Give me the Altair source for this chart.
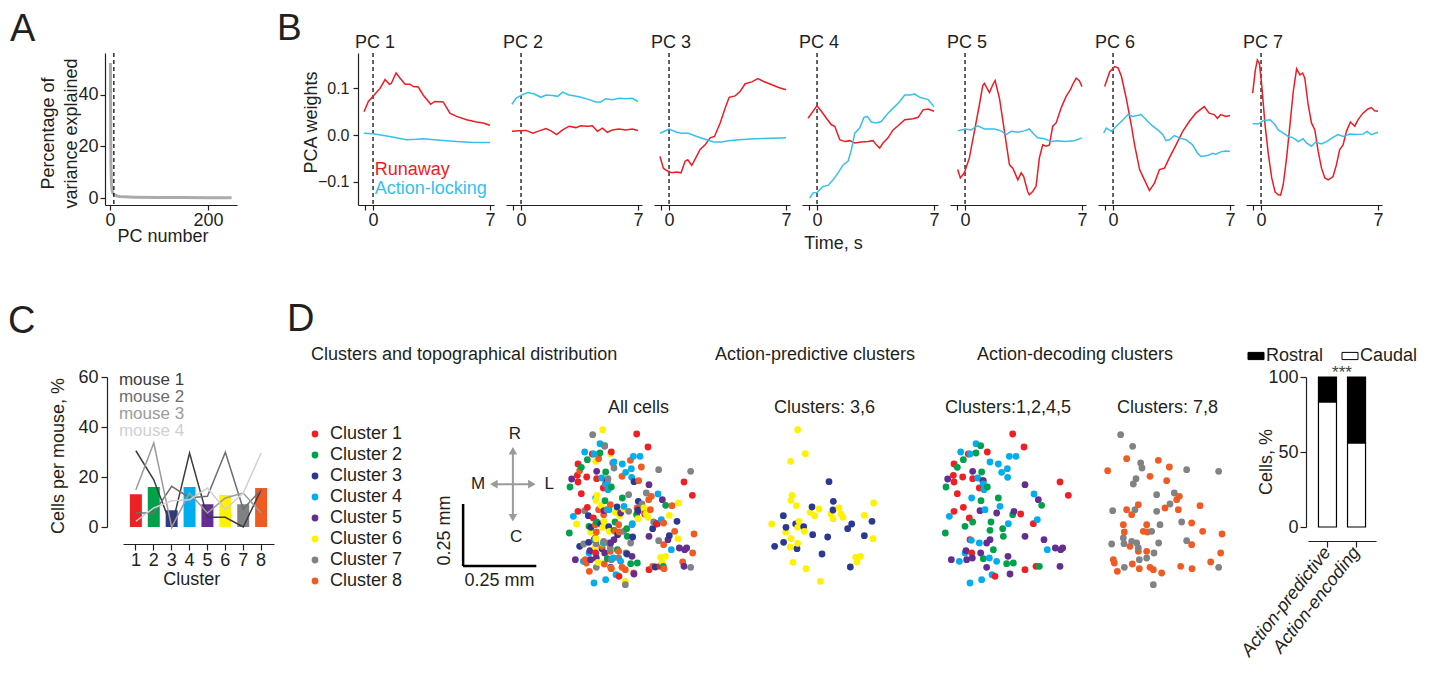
import altair as alt
import pandas as pd

FONT = "Liberation Sans"
INK = "#231F20"
RED = "#ED1C24"
CYAN = "#36BFEF"
GRAY_CURVE = "#ABABAB"
ARROW_GRAY = "#9A9A9A"

CLUSTER_COLORS = ["#ED2024", "#00A14B", "#2B3990", "#00AEEF", "#662D91", "#FFF200", "#808285", "#F15A22"]
CLUSTER_NAMES = ["Cluster 1", "Cluster 2", "Cluster 3", "Cluster 4", "Cluster 5", "Cluster 6", "Cluster 7", "Cluster 8"]
CLUSTER_IDS = ["1", "2", "3", "4", "5", "6", "7", "8"]

# ---------------- A: variance explained per PC
A_PC = [1, 2, 3, 4, 5, 6, 8, 10, 15, 20, 30, 50, 100, 150, 200, 248]
A_VARIANCE = [52.3, 14.0, 6.0, 3.5, 2.5, 2.0, 1.5, 1.2, 0.8, 0.6, 0.45, 0.35, 0.25, 0.2, 0.15, 0.1]
A_CUTOFF = [8]

# ---------------- B: PCA weights (time s, weight)
SERIES = ["Runaway", "Action-locking"]
PC1_RUNAWAY = [(-0.54, 0.050), (-0.28, 0.072), (0.0, 0.083), (0.42, 0.100), (0.72, 0.119), (0.98, 0.109), (1.10, 0.111),
               (1.38, 0.133), (1.62, 0.122), (1.92, 0.109), (2.20, 0.109), (2.42, 0.104), (2.71, 0.103), (3.00, 0.086),
               (3.45, 0.066), (3.70, 0.072), (4.20, 0.071), (4.60, 0.047), (5.00, 0.040), (5.60, 0.033), (6.20, 0.028),
               (6.60, 0.026), (7.00, 0.021)]
PC1_LOCKING = [(-0.54, 0.004), (0.0, 0.003), (1.0, -0.003), (2.0, -0.010), (2.6, -0.009), (3.0, -0.008), (4.0, -0.011),
               (5.0, -0.014), (6.0, -0.016), (7.0, -0.016)]
PC2_RUNAWAY = [(-0.54, 0.008), (-0.1, 0.009), (0.3, 0.010), (0.7, 0.004), (1.09, 0.009), (1.49, 0.014), (1.79, 0.009),
               (2.13, 0.001), (2.49, 0.011), (2.88, 0.019), (3.28, 0.016), (3.58, 0.020), (3.98, 0.019), (4.27, 0.020),
               (4.57, 0.008), (4.87, 0.015), (5.17, 0.006), (5.47, 0.011), (5.86, 0.013), (6.26, 0.011), (6.66, 0.013),
               (7.0, 0.010)]
PC2_LOCKING = [(-0.54, 0.066), (-0.3, 0.079), (0.0, 0.085), (0.4, 0.091), (0.8, 0.088), (1.19, 0.081), (1.49, 0.086),
               (1.89, 0.085), (2.19, 0.083), (2.49, 0.092), (2.88, 0.086), (3.48, 0.082), (4.08, 0.076), (4.47, 0.071),
               (4.77, 0.071), (5.07, 0.078), (5.47, 0.076), (5.86, 0.079), (6.26, 0.078), (6.66, 0.079), (7.0, 0.072)]
PC3_RUNAWAY = [(-0.54, -0.046), (-0.34, -0.071), (-0.14, -0.076), (0.16, -0.081), (0.46, -0.079), (0.72, -0.081),
               (0.96, -0.056), (1.12, -0.053), (1.36, -0.065), (1.6, -0.049), (1.86, -0.031), (2.16, -0.021),
               (2.46, -0.006), (2.72, -0.003), (3.06, 0.026), (3.36, 0.058), (3.6, 0.081), (3.96, 0.084), (4.26, 0.094),
               (4.56, 0.110), (4.96, 0.114), (5.32, 0.121), (5.66, 0.115), (6.16, 0.108), (6.56, 0.102), (7.0, 0.097)]
PC3_LOCKING = [(-0.54, 0.004), (0.0, 0.013), (0.46, 0.006), (0.76, 0.004), (1.16, 0.004), (1.66, -0.003), (2.16, -0.009),
               (2.66, -0.015), (3.16, -0.015), (3.56, -0.012), (4.16, -0.010), (5.16, -0.008), (6.16, -0.007), (7.0, -0.006)]
PC4_RUNAWAY = [(-0.54, 0.036), (0.0, 0.063), (0.26, 0.051), (0.56, 0.036), (0.86, 0.022), (1.06, 0.019), (1.36, -0.010),
               (1.66, -0.014), (1.96, -0.012), (2.26, -0.017), (2.65, -0.015), (3.05, -0.014), (3.35, -0.012),
               (3.55, -0.021), (3.75, -0.028), (3.95, -0.017), (4.25, -0.006), (4.55, 0.011), (4.85, 0.020), (5.25, 0.033),
               (5.75, 0.035), (6.05, 0.038), (6.35, 0.054), (6.65, 0.056), (7.0, 0.051)]
PC4_LOCKING = [(-0.44, -0.135), (-0.24, -0.124), (0.0, -0.123), (0.36, -0.110), (0.66, -0.108), (0.96, -0.096),
               (1.26, -0.081), (1.56, -0.064), (1.86, -0.056), (2.06, -0.031), (2.26, 0.004), (2.55, 0.015), (2.81, 0.038),
               (3.01, 0.040), (3.25, 0.028), (3.55, 0.026), (3.85, 0.029), (4.25, 0.047), (4.65, 0.061), (4.95, 0.072),
               (5.25, 0.086), (5.55, 0.086), (5.85, 0.088), (6.15, 0.081), (6.65, 0.076), (7.0, 0.061)]
PC5_RUNAWAY = [(-0.44, -0.074), (-0.28, -0.092), (-0.04, -0.081), (0.26, -0.049), (0.56, 0.008), (0.86, 0.065),
               (1.06, 0.106), (1.16, 0.111), (1.46, 0.091), (1.66, 0.108), (1.8, 0.117), (2.06, 0.079), (2.36, 0.008),
               (2.66, -0.064), (2.86, -0.071), (3.16, -0.096), (3.36, -0.081), (3.51, -0.089), (3.75, -0.121),
               (3.85, -0.128), (4.05, -0.121), (4.25, -0.110), (4.45, -0.049), (4.65, -0.021), (4.85, -0.024),
               (5.05, -0.021), (5.25, 0.019), (5.45, 0.026), (5.75, 0.058), (6.05, 0.083), (6.3, 0.097), (6.45, 0.109),
               (6.65, 0.122), (6.85, 0.116), (7.0, 0.104)]
PC5_LOCKING = [(-0.44, 0.009), (0.0, 0.013), (0.36, 0.011), (0.76, 0.020), (1.16, 0.013), (1.76, 0.013), (2.16, 0.009),
               (2.46, 0.001), (2.76, 0.008), (3.16, 0.006), (3.55, 0.009), (3.85, 0.013), (4.1, 0.003), (4.35, -0.006),
               (4.75, -0.008), (5.15, -0.014), (5.55, -0.012), (5.95, -0.014), (6.54, -0.012), (7.0, -0.006)]
PC6_RUNAWAY = [(-0.5, 0.104), (-0.2, 0.136), (0.1, 0.147), (0.3, 0.144), (0.5, 0.126), (0.79, 0.079), (1.09, 0.022),
               (1.29, -0.021), (1.59, -0.074), (1.88, -0.096), (2.18, -0.119), (2.48, -0.103), (2.78, -0.074),
               (3.08, -0.071), (3.37, -0.049), (3.77, -0.021), (4.17, 0.008), (4.56, 0.029), (4.96, 0.047), (5.46, 0.061),
               (5.75, 0.047), (6.05, 0.044), (6.25, 0.036), (6.45, 0.044), (6.75, 0.040), (7.0, 0.042)]
PC6_LOCKING = [(-0.56, 0.004), (-0.4, 0.015), (-0.1, 0.008), (0.2, 0.019), (0.6, 0.033), (0.89, 0.044), (1.19, 0.040),
               (1.69, 0.044), (2.08, 0.029), (2.38, 0.019), (2.68, 0.011), (2.98, 0.001), (3.17, -0.012), (3.37, -0.010),
               (3.67, -0.001), (3.97, -0.006), (4.37, -0.010), (4.76, -0.021), (5.06, -0.039), (5.26, -0.046),
               (5.65, -0.044), (5.95, -0.039), (6.15, -0.041), (6.45, -0.036), (6.75, -0.034), (7.0, -0.035)]
PC7_RUNAWAY = [(-0.5, 0.090), (-0.34, 0.140), (-0.22, 0.161), (-0.1, 0.154), (0.04, 0.108), (0.24, 0.022), (0.44, -0.042),
               (0.64, -0.092), (0.84, -0.122), (1.03, -0.128), (1.17, -0.129), (1.33, -0.106), (1.53, -0.049),
               (1.73, 0.022), (1.93, 0.094), (2.13, 0.142), (2.33, 0.129), (2.49, 0.133), (2.62, 0.122), (2.82, 0.065),
               (3.02, 0.026), (3.22, 0.011), (3.42, -0.035), (3.62, -0.071), (3.82, -0.092), (4.02, -0.096),
               (4.31, -0.089), (4.51, -0.064), (4.71, -0.031), (4.91, -0.021), (5.11, 0.008), (5.35, 0.028),
               (5.61, 0.019), (5.81, 0.033), (6.1, 0.047), (6.4, 0.056), (6.6, 0.059), (6.8, 0.052), (7.0, 0.051)]
PC7_LOCKING = [(-0.5, 0.024), (-0.16, 0.024), (0.14, 0.031), (0.54, 0.033), (0.84, 0.022), (1.03, 0.011), (1.33, 0.004),
               (1.63, -0.003), (1.93, -0.006), (2.23, -0.014), (2.52, -0.008), (2.72, -0.017), (3.02, -0.024),
               (3.28, -0.015), (3.62, -0.019), (3.92, -0.014), (4.31, -0.005), (4.61, 0.001), (4.91, -0.003),
               (5.31, 0.002), (5.71, 0.001), (6.1, 0.002), (6.34, 0.008), (6.6, 0.001), (7.0, 0.006)]
PCS = [(PC1_RUNAWAY, PC1_LOCKING), (PC2_RUNAWAY, PC2_LOCKING), (PC3_RUNAWAY, PC3_LOCKING), (PC4_RUNAWAY, PC4_LOCKING),
       (PC5_RUNAWAY, PC5_LOCKING), (PC6_RUNAWAY, PC6_LOCKING), (PC7_RUNAWAY, PC7_LOCKING)]

# ---------------- C: cells per mouse per cluster (%)
C_MEAN = [13.1, 16.0, 6.7, 16.0, 9.1, 12.8, 9.1, 15.6]
MOUSE_NAMES = ["mouse 1", "mouse 2", "mouse 3", "mouse 4"]
MOUSE_COLORS = ["#3D3D3D", "#6E6E6E", "#9B9B9B", "#D0D0D0"]
MOUSE_1 = [30.5, 18.9, 0.0, 29.6, 3.9, 3.9, 0.0, 14.9]
MOUSE_2 = [5.6, 5.6, 16.3, 11.7, 12.3, 29.9, 7.2, 14.9]
MOUSE_3 = [14.9, 33.6, 0.0, 13.6, 5.6, 11.6, 13.6, 5.6]
MOUSE_4 = [2.3, 7.6, 10.5, 10.9, 15.6, 7.0, 13.6, 29.6]
MOUSE_LABEL_Y = [56.9, 50.0, 43.3, 36.6]

# ---------------- D: cell positions (medio-lateral, rostro-caudal; image units)
CL1 = [(230, 168), (264, 207), (154, 222), (97, 228), (54, 258), (52, 292), (80, 297), (110, 302), (54, 312), (372, 312),
       (397, 352), (130, 330), (64, 347), (82, 388), (54, 400), (100, 420), (254, 408), (292, 437), (102, 485), (107, 525),
       (267, 575), (300, 565), (177, 595)]
CL2 = [(134, 203), (120, 225), (82, 245), (64, 268), (137, 282), (30, 327), (154, 327), (140, 308), (187, 360), (135, 368),
       (317, 382), (87, 445), (110, 432), (165, 432), (162, 457), (200, 452), (230, 410), (28, 465), (202, 475), (172, 515),
       (142, 542), (212, 557), (232, 555), (310, 565)]
CL3 = [(222, 311), (235, 370), (171, 387), (234, 396), (85, 413), (122, 438), (93, 448), (146, 446), (173, 470), (218, 477),
       (290, 438), (278, 452), (351, 430), (328, 473), (59, 505), (86, 493), (126, 512), (201, 528), (286, 567)]
CL4 = [(120, 197), (74, 222), (102, 228), (162, 252), (187, 258), (220, 235), (240, 235), (214, 272), (197, 283), (215, 298),
       (125, 300), (142, 318), (144, 335), (294, 348), (107, 360), (192, 385), (147, 395), (40, 415), (304, 425), (217, 437),
       (130, 495), (106, 487), (334, 515), (87, 525), (70, 550), (160, 540), (182, 550), (137, 605), (102, 615), (168, 590)]
CL5 = [(110, 280), (35, 303), (142, 308), (267, 320), (307, 365), (132, 398), (182, 405), (234, 400), (152, 495), (162, 485),
       (267, 475), (324, 485), (90, 518), (134, 525), (358, 510), (374, 515), (380, 510), (46, 545), (92, 545), (109, 540),
       (216, 535), (152, 568), (222, 588), (372, 565)]
CL6 = [(128, 155), (151, 227), (107, 250), (111, 352), (108, 367), (124, 383), (192, 393), (166, 403), (179, 413), (252, 390),
       (228, 408), (258, 408), (264, 418), (234, 422), (356, 375), (328, 412), (50, 438), (132, 430), (128, 448), (92, 462),
       (148, 460), (108, 482), (128, 496), (106, 507), (354, 482), (302, 538), (316, 535), (306, 552), (114, 553),
       (153, 572), (196, 610)]
CL7 = [(98, 170), (134, 205), (158, 255), (162, 270), (144, 302), (136, 318), (296, 275), (392, 280), (206, 350), (259, 345),
       (246, 378), (74, 398), (141, 395), (206, 400), (216, 440), (191, 460), (281, 432), (296, 488), (71, 498), (106, 480),
       (108, 497), (131, 490), (146, 495), (151, 510), (154, 545), (176, 540), (212, 495), (198, 525), (392, 568),
       (109, 568), (196, 620)]
CL8 = [(116, 242), (211, 247), (244, 267), (59, 278), (186, 295), (236, 308), (274, 355), (266, 365), (151, 380), (131, 410),
       (116, 395), (231, 390), (271, 395), (336, 383), (106, 440), (176, 440), (166, 460), (178, 462), (109, 462),
       (311, 435), (344, 460), (402, 468), (126, 505), (311, 500), (398, 525), (151, 520), (176, 520), (76, 545), (79, 555),
       (88, 580), (133, 558), (154, 572), (186, 568), (196, 575), (221, 585), (278, 565), (312, 572), (368, 552)]
CELLS = [CL1, CL2, CL3, CL4, CL5, CL6, CL7, CL8]
SUBSETS = [("All cells", [1, 2, 3, 4, 5, 6, 7, 8]), ("Clusters: 3,6", [3, 6]),
           ("Clusters:1,2,4,5", [1, 2, 4, 5]), ("Clusters: 7,8", [7, 8])]

# compass / scale bar (micrometres)
ARROW_SHAFTS = [(184, 314, 459, 459), (249, 249, 324, 594)]
ARROW_HEADS = [(184, 459, "triangle-left"), (314, 459, "triangle-right"), (249, 594, "triangle-up"), (249, 324, "triangle-down")]
COMPASS_LETTERS = [("R", 256, 661), ("C", 260, 246), ("M", 130, 460), ("L", 373, 460)]
SCALE_BAR = [(79, 79, 129, 379), (79, 329, 129, 129)]
SCALE_TEXT_V = [("0.25 mm", 17, 272)]
SCALE_TEXT_H = [("0.25 mm", 203, 70)]

# rostral / caudal share
GROUPS = ["Action-predictive", "Action-encoding"]
CAUDAL_PCT = [83.4, 56.0]
ROSTRAL_PCT = [16.6, 44.0]


def ttl(text, dx=0, offset=0, size=18, anchor="start", dy=0, color=INK):
    return alt.Title(text, anchor=anchor, frame="group", dx=dx, dy=dy, offset=offset, fontSize=size,
                     fontWeight="normal", baseline="alphabetic", color=color, font=FONT, limit=1000)


def spacer(w, h, title=None):
    ch = alt.Chart(pd.DataFrame({"v": [0]})).mark_rect(opacity=0).encode(
        x=alt.value(0), x2=alt.value(w), y=alt.value(0), y2=alt.value(h))
    if title is not None:
        return ch.properties(width=w, height=h, title=title)
    return ch.properties(width=w, height=h)


# ---------------- panel A
a_df = pd.DataFrame({"pc": A_PC, "var": A_VARIANCE})
a_x = alt.X("pc:Q", scale=alt.Scale(domain=[-10, 259], range=[0, 132], nice=False, zero=False),
            axis=alt.Axis(values=[0, 200], title="PC number", titleX=57.5, titleY=36, titleAlign="center",
                          titleBaseline="alphabetic", tickSize=5, labelPadding=1, labelFlush=False))
a_y = alt.Y("var:Q", scale=alt.Scale(domain=[-2.7, 56.2], nice=False, zero=False),
            axis=alt.Axis(values=[0, 20, 40], title=["Percentage of", "variance explained"], titleX=-51.6, titleY=80,
                          titleAngle=270, titleAlign="center", titleBaseline="alphabetic", titleLineHeight=23,
                          tickSize=5, labelPadding=2))
panel_a = alt.layer(
    alt.Chart(a_df).mark_line(color=GRAY_CURVE, strokeWidth=3).encode(x=a_x, y=a_y),
    alt.Chart(pd.DataFrame({"pc": A_CUTOFF})).mark_rule(color=INK, strokeDash=[4, 3], strokeWidth=1.4).encode(x=a_x),
).properties(width=18, height=152, title=ttl("A", dx=-95, offset=15.5, dy=42, size=38))


# ---------------- panel B
def b_panel(k, runaway, locking, cell_w):
    rows = [{"t": t, "w": w, "series": "Runaway"} for t, w in runaway] + \
           [{"t": t, "w": w, "series": "Action-locking"} for t, w in locking]
    df = pd.DataFrame(rows)
    xscale = alt.Scale(domain=[-0.9, 7.24], range=[0, 136], nice=False, zero=False)
    yscale = alt.Scale(domain=[-0.15, 0.176], nice=False, zero=False)
    xkw = dict(values=[-0.5, 0, 7], labelExpr="datum.value == 0 || datum.value == 7 ? datum.label : ''",
               tickSize=5, labelPadding=1, labelFlush=False, labelOverlap=False, title=None)
    if k == 4:
        xkw.update(title="Time, s", titleX=31, titleY=43.6, titleAlign="center", titleBaseline="alphabetic")
    xaxis = alt.Axis(**xkw)
    x = alt.X("t:Q", scale=xscale, axis=xaxis)
    if k == 1:
        y = alt.Y("w:Q", scale=yscale,
                  axis=alt.Axis(values=[-0.1, 0, 0.1], format=".1f", title="PCA weights", titleX=-41.6, titleY=69,
                                titleAngle=270, titleAlign="center", titleBaseline="alphabetic", tickSize=5,
                                labelPadding=4, labelFontSize=16))
    else:
        y = alt.Y("w:Q", scale=yscale, axis=None)
    color = alt.Color("series:N", scale=alt.Scale(domain=SERIES, range=[RED, CYAN]), legend=None)
    layers = [
        alt.Chart(pd.DataFrame({"t": [0.0]})).mark_rule(color=INK, strokeDash=[4, 3], strokeWidth=1.4).encode(x=x),
        alt.Chart(df).mark_line(strokeWidth=1.5).encode(x=x, y=y, color=color),
    ]
    if k == 1:
        lab = pd.DataFrame({"t": [0.1, 0.1], "w": [-0.085, -0.126], "series": SERIES})
        layers.append(alt.Chart(lab).mark_text(align="left", baseline="alphabetic", fontSize=18).encode(
            x=x, y=y, text="series:N", color=color))
    return alt.layer(*layers).properties(width=cell_w, height=152, title=ttl(f"PC {k}", dx=-3, offset=7, dy=21))


B_CELL_W = [82, 59, 106, 139, 143, 148, 62]
bp = [b_panel(i + 1, ru, lo, B_CELL_W[i]) for i, (ru, lo) in enumerate(PCS)]
row1 = [
    panel_a,
    spacer(235, 152, ttl("B", dx=154, offset=16.7, dy=41, size=37)),
    bp[0], spacer(66, 152),
    bp[1], spacer(89, 152),
    bp[2], spacer(42, 152),
    bp[3], spacer(9, 152),
    bp[4], spacer(5, 152),
    bp[5], bp[6],
    spacer(68, 152),
]

# ---------------- panel C
c_bar_df = pd.DataFrame({"cluster": CLUSTER_IDS, "pct": C_MEAN})
c_line_rows = []
for name, vals in zip(MOUSE_NAMES, [MOUSE_1, MOUSE_2, MOUSE_3, MOUSE_4]):
    for cid, v in zip(CLUSTER_IDS, vals):
        c_line_rows.append({"mouse": name, "cluster": cid, "pct": v})
c_line_df = pd.DataFrame(c_line_rows)
c_lab_df = pd.DataFrame({"mouse": MOUSE_NAMES, "cluster": ["1"] * 4, "pct": MOUSE_LABEL_Y})
c_x = alt.X("cluster:N", scale=alt.Scale(domain=CLUSTER_IDS, range=[0, 151], paddingInner=0.33, paddingOuter=0.385),
            axis=alt.Axis(title="Cluster", offset=17, labelAngle=0, tickSize=6, labelPadding=1, titleX=68.2, titleY=40,
                          titleAlign="center", titleBaseline="alphabetic"))
c_y = alt.Y("pct:Q", scale=alt.Scale(domain=[0, 60], nice=False),
            axis=alt.Axis(values=[0, 20, 40, 60], title="Cells per mouse, %", offset=16, tickSize=6, labelPadding=3,
                          titleX=-44, titleY=78.5, titleAngle=270, titleAlign="center", titleBaseline="alphabetic"))
mouse_scale = alt.Scale(domain=MOUSE_NAMES, range=MOUSE_COLORS)
panel_c = alt.layer(
    alt.Chart(c_bar_df).mark_bar().encode(
        x=c_x, y=c_y, color=alt.Color("cluster:N", scale=alt.Scale(domain=CLUSTER_IDS, range=CLUSTER_COLORS), legend=None)),
    alt.Chart(c_line_df).mark_line(strokeWidth=1.5).encode(
        x=c_x, y=c_y, stroke=alt.Stroke("mouse:N", scale=mouse_scale, legend=None)),
    alt.Chart(c_lab_df).mark_text(align="left", baseline="alphabetic", fontSize=17, dx=-17).encode(
        x=c_x, y=c_y, text="mouse:N", fill=alt.Fill("mouse:N", scale=mouse_scale, legend=None)),
).properties(width=235, height=150, title=ttl("D", dx=164, offset=43, dy=44, size=38))

# ---------------- compass + scale bar
cx = alt.Scale(domain=[0, 410], range=[0, 120], nice=False, zero=False)
cy = alt.Scale(domain=[0, 891], nice=False, zero=False)
shaft_df = pd.DataFrame(ARROW_SHAFTS, columns=["x1", "x2", "y1", "y2"])
head_df = pd.DataFrame(ARROW_HEADS, columns=["x", "y", "dir"])
letter_df = pd.DataFrame(COMPASS_LETTERS, columns=["label", "x", "y"])
bar_df_sb = pd.DataFrame(SCALE_BAR, columns=["x1", "x2", "y1", "y2"])
sv_df = pd.DataFrame(SCALE_TEXT_V, columns=["label", "x", "y"])
sh_df = pd.DataFrame(SCALE_TEXT_H, columns=["label", "x", "y"])
panel_compass = alt.layer(
    alt.Chart(shaft_df).mark_rule(color=ARROW_GRAY, strokeWidth=2).encode(
        x=alt.X("x1:Q", scale=cx, axis=None), x2="x2:Q", y=alt.Y("y1:Q", scale=cy, axis=None), y2="y2:Q"),
    alt.Chart(head_df).mark_point(filled=True, size=75, color=ARROW_GRAY, opacity=1).encode(
        x=alt.X("x:Q", scale=cx, axis=None), y=alt.Y("y:Q", scale=cy, axis=None),
        shape=alt.Shape("dir:N", scale=alt.Scale(domain=[h[2] for h in ARROW_HEADS], range=[h[2] for h in ARROW_HEADS]),
                        legend=None)),
    alt.Chart(letter_df).mark_text(fontSize=17, color=INK, align="center", baseline="middle").encode(
        x=alt.X("x:Q", scale=cx, axis=None), y=alt.Y("y:Q", scale=cy, axis=None), text="label:N"),
    alt.Chart(bar_df_sb).mark_rule(color="black", strokeWidth=2.5).encode(
        x=alt.X("x1:Q", scale=cx, axis=None), x2="x2:Q", y=alt.Y("y1:Q", scale=cy, axis=None), y2="y2:Q"),
    alt.Chart(sv_df).mark_text(fontSize=18, color=INK, align="center", baseline="middle", angle=270).encode(
        x=alt.X("x:Q", scale=cx, axis=None), y=alt.Y("y:Q", scale=cy, axis=None), text="label:N"),
    alt.Chart(sh_df).mark_text(fontSize=18, color=INK, align="center", baseline="middle").encode(
        x=alt.X("x:Q", scale=cx, axis=None), y=alt.Y("y:Q", scale=cy, axis=None), text="label:N"),
).properties(width=66, height=221)

# ---------------- scatter panels
cell_rows = []
for ci, pts in enumerate(CELLS):
    for (mx, ry) in pts:
        cell_rows.append({"cluster": CLUSTER_NAMES[ci], "cid": ci + 1, "ml": mx, "rc": ry})
cells_df = pd.DataFrame(cell_rows)
cluster_scale = alt.Scale(domain=CLUSTER_NAMES, range=CLUSTER_COLORS)


def scatter_panel(title, members, cell_w, dx, with_legend):
    df = cells_df[cells_df["cid"].isin(members)].sort_values("ml")
    if with_legend:
        leg = alt.Legend(orient="none", legendX=-259, legendY=48, title=None, labelFontSize=18, labelColor=INK,
                         labelFont=FONT, symbolType="circle", symbolSize=46, symbolStrokeWidth=0, symbolOpacity=1,
                         rowPadding=3, labelOffset=6, padding=0)
        color = alt.Color("cluster:N", scale=cluster_scale, legend=leg)
    else:
        color = alt.Color("cluster:N", scale=cluster_scale, legend=None)
    return alt.Chart(df).mark_circle(size=46, opacity=1).encode(
        x=alt.X("ml:Q", scale=alt.Scale(domain=[15, 450], range=[0, 145], nice=False, zero=False), axis=None),
        y=alt.Y("rc:Q", scale=alt.Scale(domain=[-3, 660], nice=False, zero=False, reverse=True), axis=None),
        color=color,
    ).properties(width=cell_w, height=221, title=ttl(title, dx=dx, dy=54, anchor="middle"))


sc_all = scatter_panel(SUBSETS[0][0], SUBSETS[0][1], 89, 29, True)
sc_36 = scatter_panel(SUBSETS[1][0], SUBSETS[1][1], 42, 43.5, False)
sc_1245 = scatter_panel(SUBSETS[2][0], SUBSETS[2][1], 9, 62.5, False)
sc_78 = scatter_panel(SUBSETS[3][0], SUBSETS[3][1], 5, 72, False)

# ---------------- rostral / caudal bars
bar_rows = []
for g, c, r in zip(GROUPS, CAUDAL_PCT, ROSTRAL_PCT):
    bar_rows.append({"group": g, "part": "Caudal", "pct": c, "layer": 0})
    bar_rows.append({"group": g, "part": "Rostral", "pct": r, "layer": 1})
rc_df = pd.DataFrame(bar_rows)
panel_bar = alt.Chart(rc_df).mark_bar(stroke="black", strokeWidth=1.2).encode(
    x=alt.X("group:N", scale=alt.Scale(domain=GROUPS, paddingInner=0.38, paddingOuter=0.36),
            axis=alt.Axis(title=None, offset=14, tickSize=6, labelAngle=-52, labelAlign="right", labelBaseline="middle",
                          labelFontStyle="italic", labelPadding=2, labelLimit=300)),
    y=alt.Y("pct:Q", stack="zero", scale=alt.Scale(domain=[0, 100], nice=False),
            axis=alt.Axis(values=[0, 50, 100], title="Cells, %", offset=2, tickSize=6, labelPadding=2, titleX=-35,
                          titleY=84.5, titleAngle=270, titleAlign="center", titleBaseline="alphabetic")),
    fill=alt.Fill("part:N", scale=alt.Scale(domain=["Rostral", "Caudal"], range=["#000000", "#FFFFFF"]),
                  legend=alt.Legend(orient="none", legendX=-61, legendY=-30, direction="horizontal", title=None,
                                    labelFontSize=18, labelColor=INK, labelFont=FONT,
                                    symbolType="M-1,-0.45H1V0.45H-1Z", symbolSize=256, symbolStrokeColor="black",
                                    symbolStrokeWidth=1, columnPadding=16, labelOffset=1, padding=0)),
    order=alt.Order("layer:Q"),
).properties(width=68, height=150, title=ttl("***", anchor="middle", dy=48, size=17, color="#444444"))

row2 = [
    spacer(18, 1, ttl("C", dx=-97, offset=44, dy=38, size=38)),
    panel_c,
    spacer(82, 1, ttl("Clusters and topographical distribution", dx=-47, offset=18, dy=19)),
    panel_compass,
    spacer(59, 1),
    sc_all,
    spacer(106, 1, ttl("Action-predictive clusters", dx=61, offset=18, dy=19)),
    sc_36,
    spacer(139, 1, ttl("Action-decoding clusters", dx=175, offset=18, dy=19)),
    sc_1245,
    spacer(143, 1),
    sc_78,
    spacer(148, 1),
    spacer(62, 1),
    panel_bar,
]

chart = alt.concat(*(row1 + row2), columns=15).properties(
    spacing={"row": 172, "column": 0}, bounds="flush", align="each",
    padding={"left": 0, "top": 2, "right": 5, "bottom": 5},
).resolve_scale(
    color="independent", fill="independent", stroke="independent", shape="independent"
).configure(font=FONT).configure_view(stroke=None).configure_axis(
    grid=False, domainColor=INK, tickColor=INK, labelColor=INK, titleColor=INK, labelFontSize=18, titleFontSize=18,
    titleFontWeight="normal", domainWidth=1.2, tickWidth=1.2, labelFont=FONT, titleFont=FONT)

chart.save("out.html", embed_options={"renderer": "svg", "actions": False})
